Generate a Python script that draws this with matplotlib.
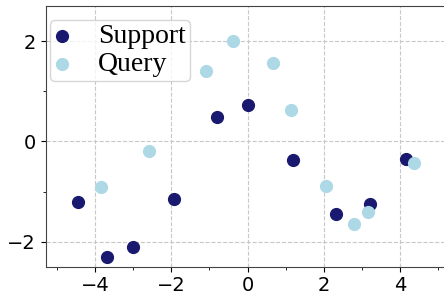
import matplotlib.pyplot as plt
from matplotlib.ticker import MultipleLocator

# support / query embeddings (2-D)
support_x = [-4.45, -3.69, -3.01, -1.94, -0.81, 0.00, 1.20, 2.33, 3.22, 4.16]
support_y = [-1.21, -2.31, -2.11, -1.15, 0.49, 0.73, -0.37, -1.45, -1.25, -0.35]
query_x = [-3.85, -2.59, -1.10, -0.37, 0.68, 1.13, 2.07, 2.80, 3.17, 4.37]
query_y = [-0.91, -0.19, 1.41, 2.01, 1.57, 0.63, -0.89, -1.65, -1.41, -0.43]

fig = plt.figure(figsize=(4.44, 2.95), dpi=100)
ax = fig.add_axes([0.103, 0.096, 0.902, 0.885])

ax.scatter(support_x, support_y, c='midnightblue', s=72, label='Support', zorder=3)
ax.scatter(query_x, query_y, c='lightblue', s=72, label='Query', zorder=3)

ax.set_xlim(-5.29, 5.21)
ax.set_ylim(-2.50, 2.71)
ax.xaxis.set_major_locator(MultipleLocator(2))
ax.xaxis.set_minor_locator(MultipleLocator(1))
ax.yaxis.set_major_locator(MultipleLocator(2))
ax.yaxis.set_minor_locator(MultipleLocator(1))
ax.tick_params(labelsize=14)
ax.grid(True, which='major', linestyle='--', color='#c8c8c8', linewidth=0.8)
ax.set_axisbelow(True)
for sp in ax.spines.values():
    sp.set_color('#444444')

ax.legend(loc='upper left', bbox_to_anchor=(0.01, 0.946),
          prop={'family': 'Liberation Serif', 'size': 20},
          handletextpad=1.0, borderpad=0.15, labelspacing=0.08,
          borderaxespad=0.0, handlelength=0.6)

fig.savefig('out.png', dpi=100)
